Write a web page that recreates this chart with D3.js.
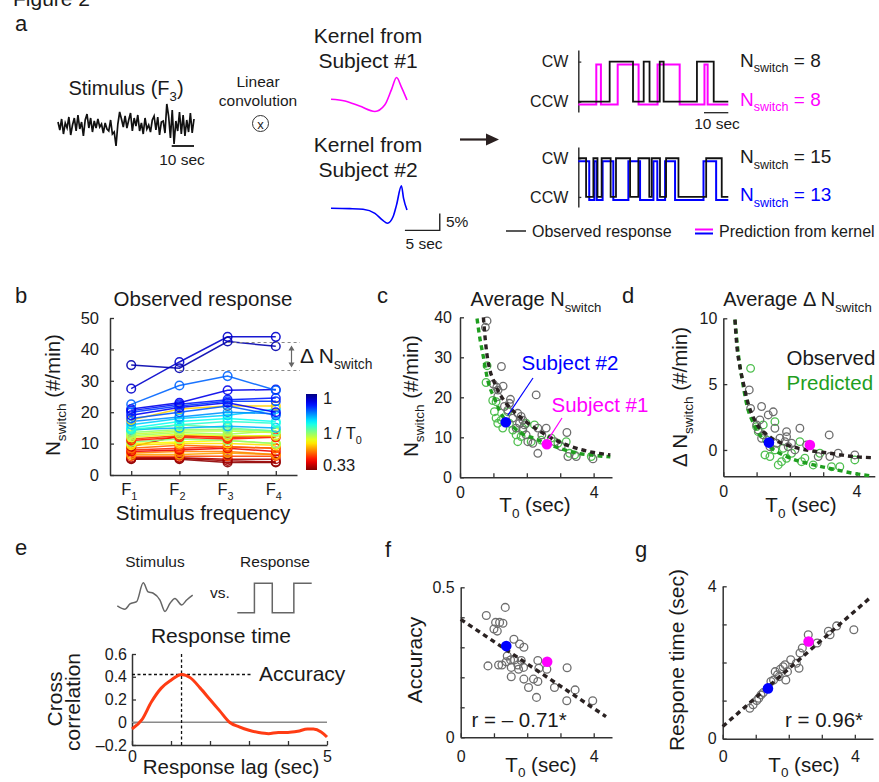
<!DOCTYPE html>
<html>
<head>
<meta charset="utf-8">
<script src="https://cdnjs.cloudflare.com/ajax/libs/d3/7.8.5/d3.min.js"></script>
<style>
  body { margin: 0; background: #fff; }
  svg text { font-family: "Liberation Sans", Arial, sans-serif; }
</style>
</head>
<body>
<svg id="fig" width="879" height="782"></svg>
<script>
`use strict`;

// ---- values ----

// a: stimulus trace (arbitrary units, 61 sec), kernels (sec, %)
const stimTrace = [3,-5,6,-9,2,-3,8,-10,0,7,-6,10,-4,3,-11,5,11,-3,7,-7,4,-3,6,-2,1,-8,2,-4,-6,5,-9,-7,-21,1,13,6,-2,9,-3,5,12,-6,7,-1,10,-6,2,-9,7,-4,0,-7,5,9,-5,8,-10,3,4,-8,21,9,-13,15,-19,4,-6,13,-9,10,-11,5,-7,12,-8,6];
const kernel1 = [[0,0],[2,-0.5],[4.1,-2],[6.3,-3.6],[7.7,-1.7],[8.7,3],[9.4,6.4],[10.1,3.6],[10.9,-0.2]];
const kernel2 = [[0,0],[2.7,-0.1],[4.6,-0.3],[6.3,-1.5],[7.4,-3.5],[8.1,-4.4],[8.9,-2.5],[9.4,1],[10.1,6.6],[10.4,3],[10.9,-0.5]];

// switch times (sec) of the CW/CCW traces
const obsSwitch1 = [12.9,22.5,26.9,29.3,33.5,35.1,48.8,55.7];
const predSwitch1 = [7.4,9.3,16.2,24.8,32.6,41.7,51.9,53.2];
const obsSwitch2 = [3.2,6.2,7.9,9.6,13.3,15.5,21.3,24.7,29.2,30.2,33.6,36.1,41.2,52.6,59.0];
const predSwitch2 = [4.5,6.6,7.6,10.0,14.4,20.6,25.4,30.9,32.5,35.7,39.8,51.5,56.7];
const nSwitch = [8, 8, 15, 13];

// b: N switch per subject at F1..F4, and 1/T0 of each subject
const freqs = [`1`, `2`, `3`, `4`];
const bValues = [
  [35,34,42.5,41],[27.5,36,44,44],[22.5,28.5,31.5,27],[21,23,27,27.2],[20.5,22.5,24,24.5],
  [20,22,23.5,23.5],[19,21.5,23,20],[18,20,22,19],[17.5,21,22,22],[17,18.5,20,19.5],
  [16,18,19,21],[15,17,18,17],[14.5,16,17,16.5],[14.5,15,15.5,15],[14,16,15,14],
  [13.5,14.5,14.5,14],[13,14,14,13.5],[12.5,13.5,13,14],[12,13,12.5,12.5],[11.5,12.5,12,12.5],
  [11,12,11.5,12],[10.5,11.5,11,10],[10,10.5,11,10],[9.5,10,10,9.5],[9,12.5,12,12.5],
  [8.5,9.5,9,8.5],[8,8.5,9,8.5],[7.5,8,8.5,7.5],[7,7.5,7.5,6.5],[6.5,6.5,7,6.5],
  [6,6,6,6],[5.5,5.5,5,5],[5,5,4,4],[5.2,5.3,4.5,4.2]
];
const bInvT0 = [0.97,0.95,0.85,0.93,0.9,0.88,0.92,0.86,0.55,0.82,0.78,0.74,0.72,0.8,0.68,0.65,0.62,0.64,0.6,0.45,0.43,0.66,0.58,0.56,0.38,0.48,0.44,0.4,0.5,0.52,0.46,0.36,0.34,0.35];
const bDelta = [42.2, 33.3];

// c: average N switch vs T0
const cObserved = [[0.81,39.1],[0.76,37.5],[1.24,27.7],[1.0,23.3],[1.1,22.5],[1.29,22.8],[1.14,21.8],[2.28,20.6],[1.51,19.5],[1.48,18.5],[1.33,17.7],[1.73,16],[1.83,15.2],[1.88,14.3],[1.78,13.5],[1.93,13.1],[1.68,12.3],[2.33,12.3],[2.58,12.3],[2.03,8.9],[2.18,8.5],[2.33,6],[2.83,8.9],[3.2,11.2],[3.23,5.2],[3.48,5.2],[3.98,4.6],[1.43,16.8],[1.58,14.8],[1.88,11.8],[1.13,20.2],[1.98,10.6],[3.03,7.7],[2.45,10.6]];
const cPredicted = [[0.81,27.9],[0.78,23.7],[0.98,19.2],[1.08,18.9],[1.03,16.4],[1.08,14.8],[1.13,13.5],[1.28,12.3],[1.23,14.3],[1.58,11.8],[1.68,10.6],[1.48,13.5],[1.88,12.3],[1.98,13.5],[2.23,13.1],[2.43,9.3],[2.73,9.8],[2.93,8.5],[3.18,8.9],[3.28,6],[3.43,5.6],[3.93,5.2],[1.73,8.9],[2.13,8.9],[1.43,16.4],[1.83,10.2]];
const cFitObserved = [[0.7,40],[0.78,32.5],[0.88,27.3],[1.0,24.3],[1.18,21],[1.4,18.3],[1.6,16.5],[1.93,14.2],[2.3,12],[2.63,10.3],[3.13,8.3],[3.63,6.9],[4.0,6.2],[4.5,5.6]];
const cFitPredicted = [[0.51,39.7],[0.6,34.5],[0.68,31],[0.83,24.3],[1.03,19.7],[1.28,15.2],[1.55,12.9],[1.83,11],[2.23,9.7],[2.83,7.7],[3.53,6],[4.0,5.5],[4.5,5.1]];

// d: average delta N switch vs T0
const dObserved = [[0.78,4.56],[0.82,3.16],[1.15,3.3],[1.5,2.9],[1.35,2.66],[1.1,2.28],[1.0,1.9],[1.05,1.52],[1.2,1.14],[1.15,0.89],[1.9,1.39],[1.9,1.01],[1.85,0.63],[2.3,1.65],[3.18,1.14],[1.6,0.51],[1.95,0.25],[2.15,0],[2.5,0.38],[2.85,-0.5],[3.2,-0.5],[3.45,-0.25],[3.95,-0.38],[1.4,0.25],[1.7,0.89],[2.05,0.51],[1.55,1.65]];
const dPredicted = [[0.82,6.2],[1.0,1.77],[1.05,1.39],[1.2,1.9],[1.3,0.76],[1.25,-0.38],[1.4,-0.5],[1.55,0],[1.75,-0.89],[1.65,-1.14],[1.9,-0.63],[2.05,-0.25],[2.3,0.63],[2.45,-0.63],[2.7,-1.14],[2.35,-0.89],[2.9,-0.25],[3.25,-1.27],[3.5,-1.27],[3.95,-0.76],[1.55,2.15],[1.8,0.13]];
const dFitObserved = [[0.35,9.9],[0.4,8.1],[0.5,6.3],[0.6,5.1],[0.75,3.5],[1.0,2.0],[1.4,1.0],[1.9,0.38],[2.5,0],[3.2,-0.25],[3.9,-0.5],[4.45,-0.58]];
const dFitPredicted = [[0.35,9.9],[0.45,7.3],[0.55,5.6],[0.7,3.5],[0.95,1.8],[1.3,0.5],[1.9,-0.5],[2.5,-1.0],[3.2,-1.4],[3.9,-1.77],[4.45,-1.97]];

// e: cross correlation vs response lag
const eLag = [0,0.25,0.5,0.75,1,1.27,1.5,1.75,2,2.25,2.5,2.75,3,3.25,3.5,3.75,4,4.25,4.5,4.65,4.85,5];
const eCorr = [-0.06,0.02,0.18,0.3,0.37,0.42,0.39,0.3,0.2,0.1,0,-0.04,-0.07,-0.09,-0.1,-0.09,-0.09,-0.08,-0.06,-0.06,-0.085,-0.13];
const ePeak = [1.27, 0.42];
const eStimulus = [[0,-0.66],[1.02,-1.17],[1.68,-0.35],[2.56,0],[3.44,2.9],[4.1,1.5],[4.77,1.3],[5.66,0.26],[6.32,-1.5],[6.99,-0.25],[7.65,0.5],[8.54,-0.5],[9.2,0.26],[10,1.0]];
const eResponse = [[0,0],[2.3,1],[4.7,0],[7.6,1],[10,1]];

// f, g: accuracy and response time vs T0
const fPoints = [[0.77,0.406],[1.34,0.433],[1.05,0.383],[1.17,0.383],[1.27,0.38],[1.0,0.361],[1.1,0.354],[1.6,0.327],[1.77,0.311],[1.9,0.3],[0.82,0.238],[1.14,0.241],[1.24,0.241],[1.4,0.271],[1.5,0.258],[1.62,0.258],[1.52,0.233],[1.72,0.241],[1.82,0.256],[1.89,0.233],[1.74,0.227],[1.52,0.202],[1.9,0.194],[2.04,0.166],[2.19,0.194],[2.32,0.256],[2.35,0.23],[2.32,0.186],[2.59,0.227],[2.28,0.133],[2.82,0.166],[3.2,0.232],[3.44,0.158],[3.19,0.122],[3.97,0.122],[1.37,0.252]];
const fFit = [[0,0.393],[4.37,0.069]];
const gPoints = [[0.82,0.8],[0.92,0.89],[1.03,1.0],[1.09,1.06],[1.16,1.15],[1.23,1.21],[1.46,1.5],[1.54,1.54],[1.59,1.76],[1.66,1.68],[1.74,1.82],[1.83,1.89],[1.91,1.54],[1.89,1.94],[2.06,2.07],[2.23,1.98],[2.31,1.85],[2.34,2.25],[2.41,2.38],[2.59,2.73],[2.86,2.51],[3.2,2.82],[3.25,2.73],[3.45,2.96],[3.97,2.86],[1.36,1.32],[1.71,1.63],[1.96,1.76]];
const gFit = [[0,0.32],[4.45,3.69]];

// the two example subjects
const subjects = [
  {name: `Subject #1`, T0: 2.6, n: 8.25, dn: 0.38, acc: 0.252, rt: 2.55},
  {name: `Subject #2`, T0: 1.37, n: 13.75, dn: 0.56, acc: 0.304, rt: 1.32}
];

(function () {

  const svg = d3.select(`#fig`);
  const ink = `#1a1a1a`, magenta = `#ff00ff`, blue = `#0000ff`, green = `#1f9e1f`,
    greenCircle = `#4fbf4f`, grey = `#6e6e6e`, dark = `#2a2222`;
  const subjColor = [magenta, blue];

  svg.append(`rect`).attr(`width`, 879).attr(`height`, 782).attr(`fill`, `#fff`);

  // text with optional subscripts: parts = [`N`, [`switch`], ` = 8`]
  let label = (g, x, y, parts, o = {}) => {
    let size = o.size || 20;
    let t = g.append(`text`).attr(`x`, x).attr(`y`, y)
      .attr(`font-size`, size)
      .attr(`text-anchor`, o.anchor || `start`)
      .attr(`fill`, o.color || ink);
    if (o.rotate) t.attr(`transform`, `rotate(-90,${x},${y})`);
    let shift = 0;
    parts.forEach(p => {
      let sub = Array.isArray(p);
      let drop = sub ? size * (o.drop || 0.3) : 0;
      t.append(`tspan`)
        .attr(`font-size`, sub ? size * 0.66 : size)
        .attr(`dy`, drop - shift)
        .text(sub ? p[0] : p);
      shift = drop;
    });
    return t;
  };

  let axis = (g, scale, orient, o) => {
    let ax = (orient === `left` ? d3.axisLeft(scale) : d3.axisBottom(scale))
      .tickValues(o.ticks)
      .tickSize(-(o.size || 4))
      .tickSizeOuter(0)
      .tickPadding(o.pad || 6)
      .tickFormat(o.format || (() => ``));
    let a = g.append(`g`).attr(`transform`, o.at).call(ax).attr(`color`, `#333`);
    a.select(`.domain`).attr(`stroke-width`, 1.5);
    a.selectAll(`.tick line`).attr(`stroke-width`, 1.3);
    a.selectAll(`text`).attr(`font-size`, o.font || 16).attr(`fill`, ink);
    return a;
  };

  let only = keep => d => keep.includes(d) ? `${d}` : ``;

  // ================= a =================
  let ga = svg.append(`g`);

  label(ga, 13, 6, [`Figure 2`], {size: 21});
  label(ga, 15, 31, [`a`], {size: 22});
  label(ga, 126, 95, [`Stimulus (F`, [`3`], `)`], {size: 20, anchor: `middle`});

  let sTime = d3.scaleLinear().domain([0, 61]).range([58, 194]);
  let sY = d3.scaleLinear().domain([-22, 22]).range([147, 103]);

  ga.append(`path`).datum(stimTrace)
    .attr(`d`, d3.line().x((d, i) => sTime(i * 61 / (stimTrace.length - 1))).y(d => sY(d)))
    .attr(`fill`, `none`).attr(`stroke`, `#111`).attr(`stroke-width`, 1.7);

  ga.append(`line`).attr(`x1`, sTime(51)).attr(`x2`, sTime(61)).attr(`y1`, 146).attr(`y2`, 146)
    .attr(`stroke`, `#111`).attr(`stroke-width`, 1.8);
  label(ga, 182, 165, [`10 sec`], {size: 15.5, anchor: `middle`});

  label(ga, 258, 87, [`Linear`], {size: 15.5, anchor: `middle`});
  label(ga, 258, 106, [`convolution`], {size: 15.5, anchor: `middle`});
  ga.append(`circle`).attr(`cx`, 260.5).attr(`cy`, 123.5).attr(`r`, 8)
    .attr(`fill`, `none`).attr(`stroke`, `#333`).attr(`stroke-width`, 1);
  label(ga, 260.5, 128.5, [`x`], {size: 13, anchor: `middle`});

  label(ga, 368, 43, [`Kernel from`], {size: 21, anchor: `middle`});
  label(ga, 368, 68, [`Subject #1`], {size: 21, anchor: `middle`});
  label(ga, 368, 152, [`Kernel from`], {size: 21, anchor: `middle`});
  label(ga, 368, 177, [`Subject #2`], {size: 21, anchor: `middle`});

  let kx = d3.scaleLinear().domain([0, 10.9]).range([331, 407]);
  let ky1 = d3.scaleLinear().domain([-5, 5]).range([99.3 + 17, 99.3 - 17]);
  let ky2 = d3.scaleLinear().domain([-5, 5]).range([208.3 + 17, 208.3 - 17]);

  ga.append(`path`).datum(kernel1)
    .attr(`d`, d3.line().curve(d3.curveMonotoneX).x(d => kx(d[0])).y(d => ky1(d[1])))
    .attr(`fill`, `none`).attr(`stroke`, magenta).attr(`stroke-width`, 1.6);
  ga.append(`path`).datum(kernel2)
    .attr(`d`, d3.line().curve(d3.curveMonotoneX).x(d => kx(d[0])).y(d => ky2(d[1])))
    .attr(`fill`, `none`).attr(`stroke`, blue).attr(`stroke-width`, 1.6);

  // 5 sec / 5 % scale bar
  ga.append(`path`)
    .attr(`d`, `M${kx(10.6)},${ky2(-6.5)}H${kx(15.6)}V${ky2(-1.5)}`)
    .attr(`fill`, `none`).attr(`stroke`, `#222`).attr(`stroke-width`, 1.4);
  label(ga, 446, 227, [`5%`], {size: 15.5});
  label(ga, 424, 249, [`5 sec`], {size: 15.5, anchor: `middle`});

  // arrow
  ga.append(`line`).attr(`x1`, 460).attr(`x2`, 490).attr(`y1`, 139.5).attr(`y2`, 139.5)
    .attr(`stroke`, `#2a2020`).attr(`stroke-width`, 2.2);
  ga.append(`path`).attr(`d`, `M486,133.5L499,139.5L486,145.5Z`).attr(`fill`, `#2a2020`);

  // CW / CCW traces
  let rx = d3.scaleLinear().domain([0, 61.7]).range([578.3, 728.3]);

  let steps = (start, times) => {
    let s = start, pts = [[0, s]];
    times.forEach(t => { s = 1 - s; pts.push([t, s]); });
    pts.push([61.7, s]);
    return pts;
  };

  let track = (top, bottom, obs, pred, start, predColor, nObs, nPred) => {
    let ty = d3.scaleLinear().domain([-0.26, 1.29]).range([bottom, top]);
    axis(ga, ty, `left`, {ticks: [0, 1], size: 3, pad: 10, at: `translate(${rx(0)},0)`,
      format: d => d ? `CW` : `CCW`, font: 16});

    let line = off => d3.line().curve(d3.curveStepAfter).x(d => rx(d[0])).y(d => ty(d[1]) + off);
    ga.append(`path`).datum(steps(start, pred)).attr(`d`, line(3))
      .attr(`fill`, `none`).attr(`stroke`, predColor).attr(`stroke-width`, 2);
    ga.append(`path`).datum(steps(start, obs)).attr(`d`, line(0))
      .attr(`fill`, `none`).attr(`stroke`, `#111`).attr(`stroke-width`, 1.8);

    label(ga, 740, ty(1) + 5, [`N`, [`switch`], ` = ${nObs}`], {size: 19});
    label(ga, 740, ty(0) + 4, [`N`, [`switch`], ` = ${nPred}`], {size: 19, color: predColor});
    return ty;
  };

  track(50, 112, obsSwitch1, predSwitch1, 0, magenta, nSwitch[0], nSwitch[1]);
  track(147, 207, obsSwitch2, predSwitch2, 1, blue, nSwitch[2], nSwitch[3]);

  ga.append(`line`).attr(`x1`, rx(51.7)).attr(`x2`, rx(61.7)).attr(`y1`, 112.7).attr(`y2`, 112.7)
    .attr(`stroke`, `#222`).attr(`stroke-width`, 1.3);
  label(ga, 717, 128.5, [`10 sec`], {size: 15.5, anchor: `middle`});

  // legend
  ga.append(`line`).attr(`x1`, 506).attr(`x2`, 526).attr(`y1`, 231).attr(`y2`, 231)
    .attr(`stroke`, `#222`).attr(`stroke-width`, 1.5);
  label(ga, 532, 236.5, [`Observed response`], {size: 16});
  ga.append(`line`).attr(`x1`, 695).attr(`x2`, 713).attr(`y1`, 229.5).attr(`y2`, 229.5)
    .attr(`stroke`, magenta).attr(`stroke-width`, 2);
  ga.append(`line`).attr(`x1`, 695).attr(`x2`, 713).attr(`y1`, 233.5).attr(`y2`, 233.5)
    .attr(`stroke`, blue).attr(`stroke-width`, 2);
  label(ga, 719, 236.5, [`Prediction from kernel`], {size: 16});

  // ================= b =================
  let gb = svg.append(`g`);
  label(gb, 15, 303, [`b`], {size: 22});
  label(gb, 203, 305.5, [`Observed response`], {size: 20.5, anchor: `middle`});

  let bx = d3.scalePoint().domain(freqs).range([110, 297]).padding(0.44);
  let by = d3.scaleLinear().domain([0, 50]).range([475, 318]);

  const jet = d3.scaleLinear()
    .domain([0.33, 0.414, 0.581, 0.749, 0.916, 1])
    .range([`#800000`, `#ff0000`, `#ffff00`, `#00ffff`, `#0000ff`, `#000080`])
    .clamp(true);

  axis(gb, by, `left`, {ticks: [0, 10, 20, 30, 40, 50], pad: 11, at: `translate(110,0)`,
    format: d => `${d}`, font: 16.5});
  axis(gb, bx, `bottom`, {ticks: freqs, pad: 6, at: `translate(0,475)`});
  freqs.forEach(f => label(gb, bx(f) - 2, 495, [`F`, [f]], {size: 16.5, anchor: `middle`}));

  label(gb, 203, 520, [`Stimulus frequency`], {size: 20.5, anchor: `middle`});
  label(gb, 60, 395, [`N`, [`switch`], ` (#/min)`], {size: 20.5, anchor: `middle`, rotate: true});

  let bLine = d3.line().x((d, j) => bx(freqs[j])).y(d => by(d));
  d3.range(bValues.length).reverse().forEach(i => {
    let col = jet(bInvT0[i]);
    gb.append(`path`).datum(bValues[i]).attr(`d`, bLine)
      .attr(`fill`, `none`).attr(`stroke`, col).attr(`stroke-width`, 1.5).attr(`opacity`, 0.9);
    gb.selectAll(null).data(bValues[i]).enter().append(`circle`)
      .attr(`cx`, (d, j) => bx(freqs[j])).attr(`cy`, d => by(d)).attr(`r`, 4.3)
      .attr(`fill`, `none`).attr(`stroke`, col).attr(`stroke-width`, 1.5).attr(`opacity`, 0.9);
  });

  // delta N switch annotation
  gb.append(`line`).attr(`x1`, bx(`3`)).attr(`x2`, 300).attr(`y1`, by(bDelta[0])).attr(`y2`, by(bDelta[0]))
    .attr(`stroke`, `#888`).attr(`stroke-dasharray`, `3,3`).attr(`stroke-width`, 1.1);
  gb.append(`line`).attr(`x1`, bx(`2`)).attr(`x2`, 300).attr(`y1`, by(bDelta[1])).attr(`y2`, by(bDelta[1]))
    .attr(`stroke`, `#888`).attr(`stroke-dasharray`, `3,3`).attr(`stroke-width`, 1.1);
  let ay0 = by(bDelta[0]) + 3, ay1 = by(bDelta[1]) - 3;
  gb.append(`line`).attr(`x1`, 291.5).attr(`x2`, 291.5).attr(`y1`, ay0 + 3).attr(`y2`, ay1 - 3)
    .attr(`stroke`, `#666`).attr(`stroke-width`, 1.2);
  gb.append(`path`).attr(`d`, `M288.5,${ay0 + 5}L291.5,${ay0}L294.5,${ay0 + 5}Z M288.5,${ay1 - 5}L291.5,${ay1}L294.5,${ay1 - 5}Z`)
    .attr(`fill`, `#666`);
  label(gb, 300, 363, [`Δ N`, [`switch`]], {size: 21});

  // colour bar
  let defs = svg.append(`defs`);
  let grad = defs.append(`linearGradient`).attr(`id`, `jet`)
    .attr(`x1`, 0).attr(`y1`, 1).attr(`x2`, 0).attr(`y2`, 0);
  d3.range(0, 1.0001, 0.05).forEach(t => {
    grad.append(`stop`).attr(`offset`, t).attr(`stop-color`, jet(0.33 + t * 0.67));
  });
  gb.append(`rect`).attr(`x`, 306).attr(`y`, 394).attr(`width`, 11).attr(`height`, 76)
    .attr(`fill`, `url(#jet)`);
  label(gb, 323, 404, [`1`], {size: 16.5});
  label(gb, 323, 439, [`1 / T`, [`0`]], {size: 16.5});
  label(gb, 323, 471, [`0.33`], {size: 16.5});

  // ================= c & d =================
  let scatterPanel = (g, o) => {
    let x = d3.scaleLinear().domain([0, 4.55]).range(o.xr);
    let y = d3.scaleLinear().domain(o.yd).range(o.yr);
    axis(g, y, `left`, {ticks: o.yt, pad: o.ypad, at: `translate(${o.xr[0]},0)`,
      format: o.yf, font: 16});
    axis(g, x, `bottom`, {ticks: [0, 1, 2, 3, 4], pad: o.xpad, at: `translate(0,${o.yr[0]})`,
      format: only([0, 4]), font: 16});
    return [x, y];
  };

  let circles = (g, data, x, y, col, r) => {
    g.selectAll(null).data(data).enter().append(`circle`)
      .attr(`cx`, d => x(d[0])).attr(`cy`, d => y(d[1])).attr(`r`, r)
      .attr(`fill`, `none`).attr(`stroke`, col).attr(`stroke-width`, 1.3);
  };

  let fit = (g, data, x, y, col, curved) => {
    g.append(`path`).datum(data)
      .attr(`d`, d3.line().curve(curved ? d3.curveMonotoneX : d3.curveLinear).x(d => x(d[0])).y(d => y(d[1])))
      .attr(`fill`, `none`).attr(`stroke`, col).attr(`stroke-width`, 3.4).attr(`stroke-dasharray`, `5,4`);
  };

  let dots = (g, key, x, y) => {
    g.selectAll(null).data(subjects).enter().append(`circle`)
      .attr(`cx`, d => x(d.T0)).attr(`cy`, d => y(d[key])).attr(`r`, 5.3)
      .attr(`fill`, (d, i) => subjColor[i]);
  };

  let gc = svg.append(`g`);
  label(gc, 377, 303, [`c`], {size: 22});
  label(gc, 536, 306, [`Average N`, [`switch`]], {size: 20, anchor: `middle`});
  let [cx, cy] = scatterPanel(gc, {xr: [460, 612], yd: [0, 40], yr: [477.3, 317.3],
    yt: [0, 10, 20, 30, 40], yf: d => `${d}`, ypad: 8, xpad: 9});
  label(gc, 418, 396, [`N`, [`switch`], ` (#/min)`], {size: 20.5, anchor: `middle`, rotate: true});
  label(gc, 535, 511.5, [`T`, [`0`], ` (sec)`], {size: 20.5, anchor: `middle`});

  circles(gc, cPredicted, cx, cy, greenCircle, 3.8);
  circles(gc, cObserved, cx, cy, grey, 3.8);
  fit(gc, cFitPredicted, cx, cy, green, true);
  fit(gc, cFitObserved, cx, cy, dark, true);
  dots(gc, `n`, cx, cy);

  // subject call-outs
  gc.append(`line`).attr(`x1`, 533).attr(`y1`, 378).attr(`x2`, cx(subjects[1].T0) + 2).attr(`y2`, cy(subjects[1].n) - 7)
    .attr(`stroke`, blue).attr(`stroke-width`, 1.2);
  gc.append(`line`).attr(`x1`, 562).attr(`y1`, 418).attr(`x2`, cx(subjects[0].T0) + 2).attr(`y2`, cy(subjects[0].n) - 6)
    .attr(`stroke`, magenta).attr(`stroke-width`, 1.2);
  label(gc, 521.5, 370, [subjects[1].name], {size: 20.5, color: blue});
  label(gc, 551.5, 411.5, [subjects[0].name], {size: 20.5, color: magenta});

  let gd = svg.append(`g`);
  label(gd, 622, 303, [`d`], {size: 22});
  label(gd, 797.5, 306, [`Average Δ N`, [`switch`]], {size: 20, anchor: `middle`});
  let [dx, dy] = scatterPanel(gd, {xr: [723.3, 874.8], yd: [-2, 10], yr: [476.3, 318.3],
    yt: [0, 5, 10], yf: d => `${d}`, ypad: 6, xpad: 9});
  label(gd, 686.5, 397, [`Δ N`, [`switch`], ` (#/min)`], {size: 20.5, anchor: `middle`, rotate: true});
  label(gd, 801, 511.5, [`T`, [`0`], ` (sec)`], {size: 20.5, anchor: `middle`});

  circles(gd, dPredicted, dx, dy, greenCircle, 3.8);
  circles(gd, dObserved, dx, dy, grey, 3.8);
  fit(gd, dFitPredicted, dx, dy, green, true);
  fit(gd, dFitObserved, dx, dy, dark, true);
  dots(gd, `dn`, dx, dy);
  label(gd, 786.5, 365, [`Observed`], {size: 20.5});
  label(gd, 786.5, 390, [`Predicted`], {size: 20.5, color: green});

  // ================= e =================
  let ge = svg.append(`g`);
  label(ge, 15, 555, [`e`], {size: 22});
  label(ge, 155, 566.5, [`Stimulus`], {size: 15.5, anchor: `middle`});
  label(ge, 275, 566.5, [`Response`], {size: 15.5, anchor: `middle`});
  label(ge, 220, 598, [`vs.`], {size: 15.5, anchor: `middle`});

  let esx = d3.scaleLinear().domain([0, 10]).range([117.3, 192.7]);
  let esy = d3.scaleLinear().domain([0, 1]).range([601.7, 595.2]);
  ge.append(`path`).datum(eStimulus)
    .attr(`d`, d3.line().curve(d3.curveMonotoneX).x(d => esx(d[0])).y(d => esy(d[1])))
    .attr(`fill`, `none`).attr(`stroke`, `#666`).attr(`stroke-width`, 1.5);
  let erx = d3.scaleLinear().domain([0, 10]).range([237.3, 311.7]);
  let ery = d3.scaleLinear().domain([0, 1]).range([612.7, 583.3]);
  ge.append(`path`).datum(eResponse)
    .attr(`d`, d3.line().curve(d3.curveStepAfter).x(d => erx(d[0])).y(d => ery(d[1])))
    .attr(`fill`, `none`).attr(`stroke`, `#666`).attr(`stroke-width`, 1.5);

  label(ge, 221, 643, [`Response time`], {size: 21, anchor: `middle`});

  let ex = d3.scaleLinear().domain([0, 5]).range([132, 327]);
  let ey = d3.scaleLinear().domain([-0.2, 0.6]).range([745, 654]);
  axis(ge, ey, `left`, {ticks: [-0.2, 0, 0.2, 0.4, 0.6], pad: 5, at: `translate(132,0)`,
    format: d => d < 0 ? `–${-d}` : `${d}`, font: 16});
  axis(ge, ex, `bottom`, {ticks: [0, 1, 2, 3, 4, 5], pad: 6, at: `translate(0,745)`,
    format: only([0, 5]), font: 16});

  ge.append(`line`).attr(`x1`, ex(0)).attr(`x2`, ex(5)).attr(`y1`, ey(0)).attr(`y2`, ey(0))
    .attr(`stroke`, `#8a8a8a`).attr(`stroke-width`, 1.3);
  ge.append(`line`).attr(`x1`, ex(ePeak[0])).attr(`x2`, ex(ePeak[0])).attr(`y1`, ey(0.6)).attr(`y2`, ey(-0.2))
    .attr(`stroke`, `#111`).attr(`stroke-width`, 1.3).attr(`stroke-dasharray`, `3,2.5`);
  ge.append(`line`).attr(`x1`, ex(0)).attr(`x2`, 253).attr(`y1`, ey(ePeak[1])).attr(`y2`, ey(ePeak[1]))
    .attr(`stroke`, `#111`).attr(`stroke-width`, 1.3).attr(`stroke-dasharray`, `3,2.5`);

  ge.append(`path`).datum(eLag)
    .attr(`d`, d3.line().curve(d3.curveMonotoneX).x(d => ex(d)).y((d, i) => ey(eCorr[i])))
    .attr(`fill`, `none`).attr(`stroke`, `#ff3c14`).attr(`stroke-width`, 3);

  label(ge, 259, 681, [`Accuracy`], {size: 21});
  label(ge, 61.5, 699, [`Cross`], {size: 21, anchor: `middle`, rotate: true});
  label(ge, 80, 702, [`correlation`], {size: 21, anchor: `middle`, rotate: true});
  label(ge, 231, 774, [`Response lag (sec)`], {size: 20.5, anchor: `middle`});

  // ================= f & g =================
  let gf = svg.append(`g`);
  label(gf, 385, 556.5, [`f`], {size: 22});
  let [fx, fy] = scatterPanel(gf, {xr: [460.7, 612], yd: [0, 0.5], yr: [737.3, 587.3],
    yt: [0, 0.1, 0.2, 0.3, 0.4, 0.5], yf: only([0, 0.5]), ypad: 6, xpad: 13});
  circles(gf, fPoints, fx, fy, grey, 3.9);
  fit(gf, fFit, fx, fy, dark, false);
  dots(gf, `acc`, fx, fy);
  label(gf, 421.5, 660, [`Accuracy`], {size: 21, anchor: `middle`, rotate: true});
  label(gf, 541, 772, [`T`, [`0`], ` (sec)`], {size: 20.5, anchor: `middle`, drop: 0.22});
  label(gf, 471.5, 727, [`r = – 0.71*`], {size: 20.5});

  let gg = svg.append(`g`);
  label(gg, 635, 556.5, [`g`], {size: 22});
  let [gx, gy] = scatterPanel(gg, {xr: [722.7, 873], yd: [0, 4], yr: [738.7, 586.3],
    yt: [0, 1, 2, 3, 4], yf: only([0, 4]), ypad: 6, xpad: 12});
  circles(gg, gPoints, gx, gy, grey, 3.9);
  fit(gg, gFit, gx, gy, dark, false);
  dots(gg, `rt`, gx, gy);
  label(gg, 683.5, 660, [`Respone time (sec)`], {size: 21, anchor: `middle`, rotate: true});
  label(gg, 804, 772, [`T`, [`0`], ` (sec)`], {size: 20.5, anchor: `middle`, drop: 0.22});
  label(gg, 785, 727, [`r = 0.96*`], {size: 20.5});

})();
</script>
</body>
</html>
